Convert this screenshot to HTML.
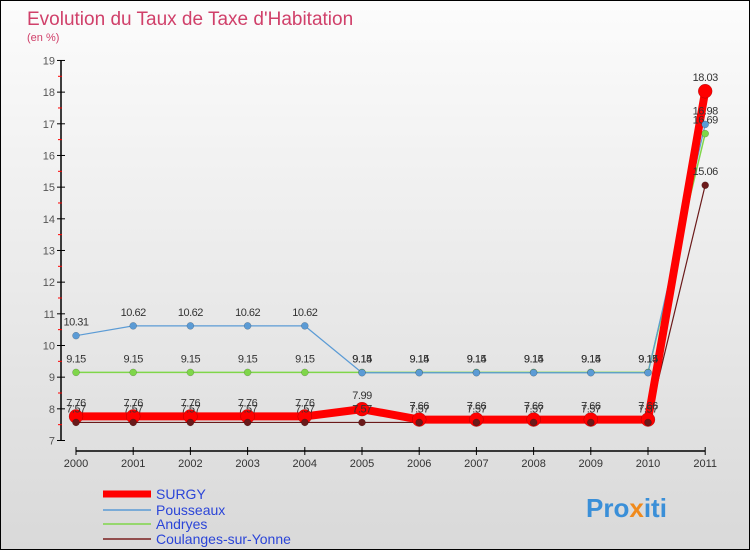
<!DOCTYPE html>
<html><head><meta charset="utf-8"><style>
body{margin:0}
#w{position:relative;width:748px;height:548px;border:1px solid #000;background:linear-gradient(#fcfcfc,#d9d9d9);font-family:"Liberation Sans",sans-serif;overflow:hidden}
</style></head><body>
<div id="w">
<svg id="s" width="748" height="548" style="position:absolute;left:0;top:0">
<text x="26" y="24" font-size="19" fill="#d0406a">Evolution du Taux de Taxe d'Habitation</text>
<text x="26" y="40" font-size="11" fill="#d0406a">(en %)</text>
<g id="ax"></g><g id="lines"></g><g id="dots"></g>
<g>
<line x1="102" y1="493" x2="150" y2="493" stroke="#f00" stroke-width="7"/>
<text x="155" y="498" font-size="14" fill="#2b45d8">SURGY</text>
<line x1="102" y1="509" x2="150" y2="509" stroke="#5b9bd5" stroke-width="1.5"/>
<text x="155" y="514" font-size="14" fill="#2b45d8">Pousseaux</text>
<line x1="102" y1="523" x2="150" y2="523" stroke="#7fd64a" stroke-width="1.5"/>
<text x="155" y="528" font-size="14" fill="#2b45d8">Andryes</text>
<line x1="102" y1="538" x2="150" y2="538" stroke="#7a2020" stroke-width="1.5"/>
<text x="155" y="543" font-size="14" fill="#2b45d8">Coulanges-sur-Yonne</text>
</g>
<text x="585" y="516" font-size="26" font-weight="bold" fill="#3a8fd8">Pro<tspan fill="#f08a1c">x</tspan>iti</text>
</svg>
</div>
<script>
const years=["2000","2001","2002","2003","2004","2005","2006","2007","2008","2009","2010","2011"];
const yTicks=[7,8,9,10,11,12,13,14,15,16,17,18,19];
const surgy=[7.76,7.76,7.76,7.76,7.76,7.99,7.66,7.66,7.66,7.66,7.66,18.03];
const pousseaux=[10.31,10.62,10.62,10.62,10.62,9.14,9.14,9.14,9.14,9.14,9.14,16.98];
const andryes=[9.15,9.15,9.15,9.15,9.15,9.15,9.15,9.15,9.15,9.15,9.15,16.69];
const coulanges=[7.57,7.57,7.57,7.57,7.57,7.57,7.57,7.57,7.57,7.57,7.57,15.06];
const NS="http://www.w3.org/2000/svg";
const X=i=>75+i*57.2, Y=v=>439.5-(v-7)*31.67;
function mk(t,a,p){const e=document.createElementNS(NS,t);for(const k in a)e.setAttribute(k,a[k]);p.appendChild(e);return e;}
const ax=document.getElementById('ax');
let e=mk('line',{x1:60,y1:Y(19),x2:60,y2:Y(7),stroke:'#000','stroke-width':1.5},ax);


e=mk('line',{x1:X(0),y1:450,x2:X(11),y2:450,stroke:'#000','stroke-width':1.5},ax);


yTicks.forEach(v=>{
 mk('line',{x1:56,y1:Y(v),x2:64,y2:Y(v),stroke:'#000'},ax);
 if(v<19)mk('line',{x1:57,y1:Y(v+0.5),x2:61,y2:Y(v+0.5),stroke:'#f00'},ax);
 const t=mk('text',{x:54,y:Y(v)+4,'font-size':11,fill:'#555','text-anchor':'end'},ax);t.textContent=v;
 
 
});
years.forEach((y,i)=>{
 mk('line',{x1:X(i),y1:446,x2:X(i),y2:454,stroke:'#000'},ax);
 const t=mk('text',{x:X(i),y:466,'font-size':11,fill:'#333','text-anchor':'middle'},ax);t.textContent=y;
 
 
});
const L=document.getElementById('lines'), D=document.getElementById('dots');
function line(d,col,w,name,p){
 const pl=mk('polyline',{points:d.map((v,i)=>X(i)+','+Y(v)).join(' '),fill:'none',stroke:col,'stroke-width':w,'stroke-linejoin':'round'},p);
 
 
}
function dots(d,col,r,name,p){
 d.forEach((v,i)=>{
  const c=mk('circle',{cx:X(i),cy:Y(v),r:r,fill:col,stroke:'rgba(0,0,0,0.3)','stroke-width':0.5},p);
  
  
  const t=mk('text',{x:X(i),y:Y(v)-10,'font-size':11,fill:'#333','text-anchor':'middle','letter-spacing':'-0.5'},p);t.textContent=v;
 });
}
line(coulanges,'#6b1a1a',1.2,'series-coulanges',L);
line(andryes,'#7fd64a',1.5,'series-andryes',L);
line(pousseaux,'#5b9bd5',1.2,'series-pousseaux',L);
line(surgy,'#f00',8,'series-surgy',L);
dots(surgy,'#f00',7,'series-surgy',D);
dots(coulanges,'#6b1a1a',3.5,'series-coulanges',D);
dots(andryes,'#7fd64a',3.5,'series-andryes',D);
dots(pousseaux,'#5b9bd5',3.5,'series-pousseaux',D);
</script>
</body></html>
